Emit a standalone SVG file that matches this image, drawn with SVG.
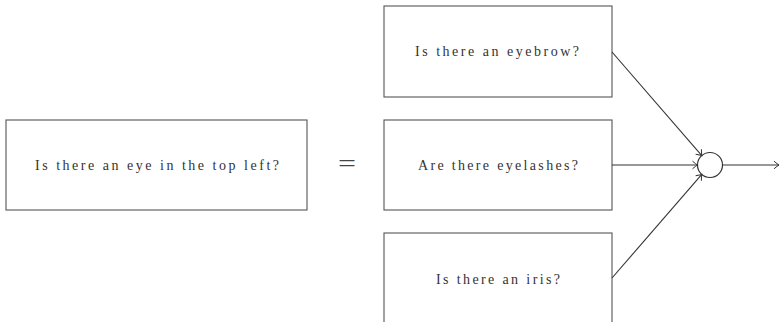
<svg xmlns="http://www.w3.org/2000/svg" width="780" height="322" viewBox="0 0 780 322">
<defs>
<style>
.box{fill:#fff;stroke:#555;stroke-width:1.1}
.t{font-family:"Liberation Serif","DejaVu Serif",serif;font-size:14px;fill:#333;text-anchor:middle}
.c{fill:none;stroke:#333;stroke-width:1.1}
</style>
<marker id="arr" viewBox="-6 -5 8 10" markerWidth="8" markerHeight="10" refX="0" refY="0" orient="auto" markerUnits="userSpaceOnUse">
<path d="M-5,-3.8 Q-1.5,-0.8 0,0 Q-1.5,0.8 -5,3.8" fill="none" stroke="#333" stroke-width="1"/>
</marker>
</defs>
<rect width="780" height="322" fill="#fff"/>
<g id="left">
<rect class="box" x="6" y="120" width="301" height="90"/>
<text class="t" x="157" y="170" textLength="244" lengthAdjust="spacing">Is there an eye in the top left?</text>
</g>
<g id="equals">
<text x="347" y="171" font-family="Liberation Serif, serif" font-size="24" fill="#444" text-anchor="middle" textLength="18" lengthAdjust="spacingAndGlyphs">=</text>
</g>
<g id="eyebrow">
<rect class="box" x="384" y="6" width="228" height="91"/>
<text class="t" x="497" y="56" textLength="164" lengthAdjust="spacing">Is there an eyebrow?</text>
</g>
<g id="eyelashes">
<rect class="box" x="384" y="120" width="228" height="90"/>
<text class="t" x="498" y="170" textLength="160" lengthAdjust="spacing">Are there eyelashes?</text>
</g>
<g id="iris">
<rect class="box" x="384" y="233" width="228" height="91"/>
<text class="t" x="498" y="284" textLength="124" lengthAdjust="spacing">Is there an iris?</text>
</g>
<g id="sum">
<circle cx="710" cy="165" r="12.5" fill="#fff" stroke="#333" stroke-width="1.2"/>
</g>
<g id="connectors">
<line class="c" x1="612" y1="52" x2="701.8" y2="155.6" marker-end="url(#arr)"/>
<line class="c" x1="612" y1="165" x2="697.5" y2="165" marker-end="url(#arr)"/>
<line class="c" x1="612" y1="278" x2="701.8" y2="174.4" marker-end="url(#arr)"/>
<line class="c" x1="722.5" y1="165" x2="779" y2="165" marker-end="url(#arr)"/>
</g>
</svg>
